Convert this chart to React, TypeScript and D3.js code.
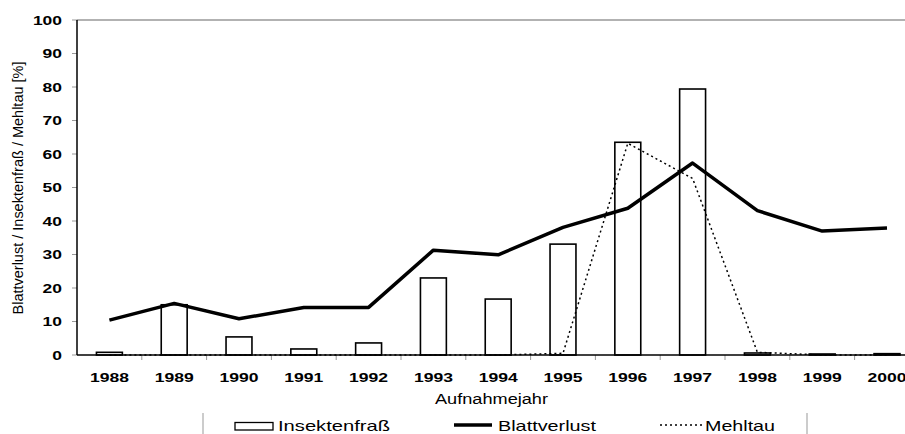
import React, { useEffect, useRef } from "react";
import * as d3 from "d3";

/* DATA */
const years = ["1988", "1989", "1990", "1991", "1992", "1993", "1994", "1995", "1996", "1997", "1998", "1999", "2000"];
const insektenfrass = [0.8, 15, 5.4, 1.8, 3.6, 23, 16.7, 33.1, 63.5, 79.4, 0.6, 0.3, 0.4];
const blattverlust = [10.4, 15.4, 10.8, 14.2, 14.2, 31.3, 29.9, 38.1, 43.8, 57.3, 43.1, 37, 37.9];
const mehltau = [0, 0, 0, 0, 0, 0, 0, 0.5, 63.2, 52.7, 0.8, 0, 0];
const yTicks = [0, 10, 20, 30, 40, 50, 60, 70, 80, 90, 100];

const App = () => {
  const ref = useRef<SVGSVGElement>(null);

  useEffect(() => {
    const width = 905;
    const height = 434;
    const left = 77;
    const top = 20;
    const bottom = 355;
    const step = 64.8;
    const font = "'Liberation Sans', Arial, sans-serif";

    const svg = d3.select(ref.current);
    svg.selectAll("*").remove();
    svg.attr("width", width).attr("height", height).style("background", "#fff");

    const x = d3
      .scaleBand()
      .domain(years)
      .range([left, left + step * years.length]);
    const y = d3.scaleLinear().domain([0, 100]).range([bottom, top]);
    const cx = (i: number) => (x(years[i]) as number) + x.bandwidth() / 2;

    /* plot border top */
    svg
      .append("line")
      .attr("x1", left)
      .attr("x2", width)
      .attr("y1", y(100))
      .attr("y2", y(100))
      .attr("stroke", "#999")
      .attr("stroke-width", 1.5);

    /* y axis */
    svg
      .append("g")
      .selectAll("line")
      .data(yTicks)
      .join("line")
      .attr("x1", left - 5)
      .attr("x2", left)
      .attr("y1", (d) => y(d))
      .attr("y2", (d) => y(d))
      .attr("stroke", "#999");

    svg
      .append("g")
      .selectAll("text")
      .data(yTicks)
      .join("text")
      .attr("x", 62)
      .attr("y", (d) => y(d) + 4.7)
      .attr("text-anchor", "end")
      .attr("font-family", font)
      .attr("font-weight", "bold")
      .attr("font-size", 13)
      .attr("textLength", (d) => String(d).length * 9.7)
      .attr("lengthAdjust", "spacingAndGlyphs")
      .text((d) => d);

    svg
      .append("text")
      .attr("transform", `translate(23, 188) rotate(-90)`)
      .attr("text-anchor", "middle")
      .attr("font-family", font)
      .attr("font-size", 14.5)
      .attr("textLength", 253)
      .attr("lengthAdjust", "spacingAndGlyphs")
      .text("Blattverlust / Insektenfraß / Mehltau [%]");

    /* x ticks */
    svg
      .append("g")
      .selectAll("line")
      .data(years.slice(1))
      .join("line")
      .attr("x1", (d) => x(d) as number)
      .attr("x2", (d) => x(d) as number)
      .attr("y1", bottom)
      .attr("y2", bottom + 5)
      .attr("stroke", "#999");

    svg
      .append("g")
      .selectAll("text")
      .data(years)
      .join("text")
      .attr("x", (d, i) => cx(i))
      .attr("y", 382)
      .attr("text-anchor", "middle")
      .attr("font-family", font)
      .attr("font-weight", "bold")
      .attr("font-size", 13)
      .attr("textLength", 39)
      .attr("lengthAdjust", "spacingAndGlyphs")
      .text((d) => d);

    svg
      .append("text")
      .attr("x", 435)
      .attr("y", 403.5)
      .attr("font-family", font)
      .attr("font-size", 14)
      .attr("textLength", 113)
      .attr("lengthAdjust", "spacingAndGlyphs")
      .text("Aufnahmejahr");

    /* bars */
    const barW = x.bandwidth() * 0.4;
    svg
      .append("g")
      .selectAll("rect")
      .data(insektenfrass)
      .join("rect")
      .attr("x", (d, i) => cx(i) - barW / 2)
      .attr("y", (d) => y(d))
      .attr("width", barW)
      .attr("height", (d) => bottom - y(d))
      .attr("fill", "#fff")
      .attr("stroke", "#000")
      .attr("stroke-width", 1.6);

    /* axis lines */
    svg
      .append("line")
      .attr("x1", left)
      .attr("x2", width)
      .attr("y1", bottom)
      .attr("y2", bottom)
      .attr("stroke", "#000")
      .attr("stroke-width", 1.5);

    svg
      .append("line")
      .attr("x1", left)
      .attr("x2", left)
      .attr("y1", top)
      .attr("y2", bottom)
      .attr("stroke", "#000")
      .attr("stroke-width", 1.5);

    /* lines */
    const line = d3
      .line<number>()
      .x((d, i) => cx(i))
      .y((d) => y(d));

    svg
      .append("path")
      .datum(mehltau)
      .attr("d", line)
      .attr("fill", "none")
      .attr("stroke", "#000")
      .attr("stroke-width", 1.5)
      .attr("stroke-dasharray", "2,3");

    svg
      .append("path")
      .datum(blattverlust)
      .attr("d", line)
      .attr("fill", "none")
      .attr("stroke", "#000")
      .attr("stroke-width", 3.5)
      .attr("stroke-linejoin", "round");

    /* legend */
    const lg = svg.append("g");
    [203, 807].forEach((lx) =>
      lg
        .append("line")
        .attr("x1", lx)
        .attr("x2", lx)
        .attr("y1", 413)
        .attr("y2", 434)
        .attr("stroke", "#999")
    );
    lg.append("rect")
      .attr("x", 235)
      .attr("y", 422.5)
      .attr("width", 38)
      .attr("height", 7.5)
      .attr("fill", "#fff")
      .attr("stroke", "#000")
      .attr("stroke-width", 1.3);
    lg.append("line")
      .attr("x1", 454)
      .attr("x2", 492)
      .attr("y1", 425)
      .attr("y2", 425)
      .attr("stroke", "#000")
      .attr("stroke-width", 3.5);
    lg.append("line")
      .attr("x1", 660)
      .attr("x2", 702)
      .attr("y1", 425)
      .attr("y2", 425)
      .attr("stroke", "#000")
      .attr("stroke-width", 1.3)
      .attr("stroke-dasharray", "2,3");
    [
      { t: "Insektenfraß", x: 278, w: 112 },
      { t: "Blattverlust", x: 498, w: 98 },
      { t: "Mehltau", x: 705, w: 70 },
    ].forEach((d) =>
      lg
        .append("text")
        .attr("x", d.x)
        .attr("y", 431)
        .attr("font-family", font)
        .attr("font-size", 15)
        .attr("textLength", d.w)
        .attr("lengthAdjust", "spacingAndGlyphs")
        .text(d.t)
    );
  }, []);

  return (
    <div style={{ position: "absolute", left: 0, top: 0 }}>
      <svg ref={ref} />
    </div>
  );
};

export default App;
